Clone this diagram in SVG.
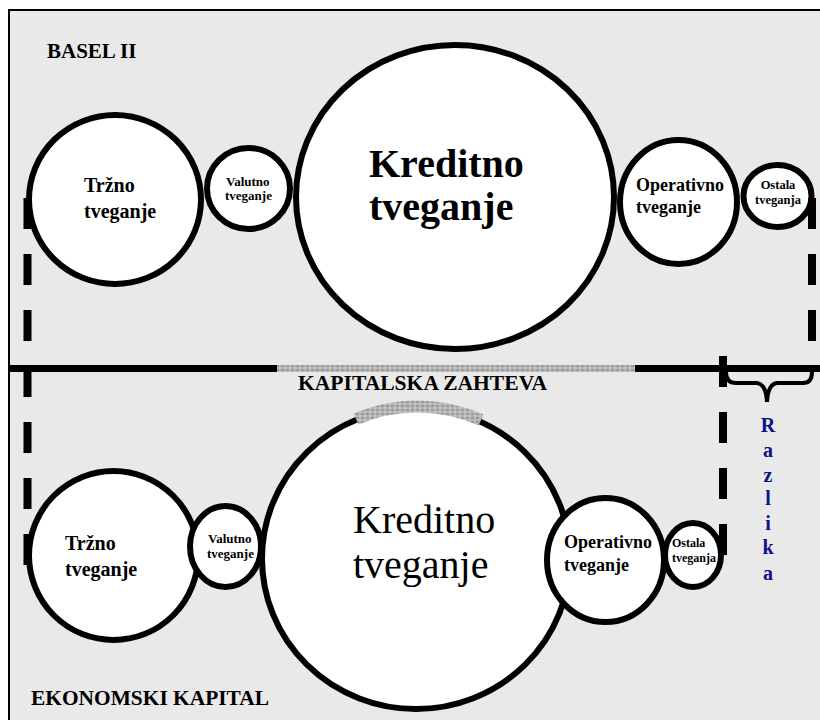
<svg xmlns="http://www.w3.org/2000/svg" width="820" height="720" viewBox="0 0 820 720">
<defs>
<pattern id="tex" width="5" height="4" patternUnits="userSpaceOnUse">
<rect width="5" height="4" fill="#d2d2d2"/>
<rect x="0.5" y="0.5" width="4" height="3" fill="#9c9c9c"/>
</pattern>
<style>
.c{fill:#ffffff;stroke:#000000;stroke-width:6}
.t{font-family:"Liberation Serif","Times New Roman",serif;font-weight:bold;fill:#000000}
.lbl{font-family:"Liberation Serif","Times New Roman",serif;font-weight:bold;font-size:21px;fill:#000000}
.dash{fill:none;stroke:#000000;stroke-width:8;stroke-dasharray:31 25}
.raz{font-family:"Liberation Serif","Times New Roman",serif;font-weight:bold;font-size:20px;fill:#10108a;text-anchor:middle}
</style>
</defs>
<rect x="0" y="0" width="820" height="720" fill="#ffffff"/>
<rect x="9" y="10" width="815" height="715" fill="#e9e9e9" stroke="#000000" stroke-width="2"/>

<text class="lbl" x="47" y="58">BASEL II</text>
<text class="lbl" x="298" y="390" textLength="249" lengthAdjust="spacingAndGlyphs">KAPITALSKA ZAHTEVA</text>
<text class="lbl" x="31" y="705" textLength="238" lengthAdjust="spacingAndGlyphs">EKONOMSKI KAPITAL</text>

<!-- top row -->
<g id="top-trzno">
<ellipse class="c" cx="115" cy="199.5" rx="86" ry="84.5"/>
<text class="t" font-size="20" x="84" y="192">Tržno</text>
<text class="t" font-size="20" x="84" y="218">tveganje</text>
</g>
<g id="top-valutno">
<ellipse class="c" cx="248.5" cy="188.5" rx="41.5" ry="40.5"/>
<text class="t" font-size="13" x="226" y="186">Valutno</text>
<text class="t" font-size="13" x="225" y="200">tveganje</text>
</g>
<g id="top-kreditno">
<ellipse class="c" cx="455" cy="197" rx="159" ry="152"/>
<text class="t" font-size="40" x="369" y="177">Kreditno</text>
<text class="t" font-size="40" x="369" y="220">tveganje</text>
</g>
<g id="top-operativno">
<ellipse class="c" cx="678.5" cy="202" rx="58.5" ry="62"/>
<text class="t" font-size="18" x="636" y="191">Operativno</text>
<text class="t" font-size="18" x="636" y="213">tveganje</text>
</g>
<g id="top-ostala">
<ellipse class="c" cx="777.5" cy="196" rx="34" ry="31"/>
<text class="t" font-size="12.5" x="778" y="189" text-anchor="middle">Ostala</text>
<text class="t" font-size="12.5" x="778" y="204" text-anchor="middle">tveganja</text>
</g>

<!-- bottom row -->
<g id="bottom-trzno">
<ellipse class="c" cx="113.5" cy="555.5" rx="84.5" ry="84.5"/>
<text class="t" font-size="20" x="65" y="550">Tržno</text>
<text class="t" font-size="20" x="65" y="576">tveganje</text>
</g>
<g id="bottom-valutno">
<ellipse class="c" cx="225.5" cy="546.5" rx="35.5" ry="40.5"/>
<text class="t" font-size="13" x="208" y="543">Valutno</text>
<text class="t" font-size="13" x="207" y="558">tveganje</text>
</g>
<g id="bottom-kreditno">
<ellipse class="c" cx="416" cy="558.5" rx="154" ry="150.5"/>
<path d="M 356 419 A 154 152 0 0 1 481 420" fill="none" stroke="url(#tex)" stroke-width="12"/>
<text font-family="'Liberation Serif','Times New Roman',serif" font-size="40" x="353" y="533">Kreditno</text>
<text font-family="'Liberation Serif','Times New Roman',serif" font-size="40" x="353" y="578">tveganje</text>
</g>
<g id="bottom-ostala">
<ellipse class="c" cx="693" cy="555" rx="28" ry="32"/>
<text class="t" font-size="12" x="672" y="547">Ostala</text>
<text class="t" font-size="12" x="672" y="562">tveganja</text>
</g>
<g id="bottom-operativno">
<ellipse class="c" cx="605.5" cy="560" rx="58.5" ry="62"/>
<text class="t" font-size="18" x="564" y="548">Operativno</text>
<text class="t" font-size="18" x="564" y="571">tveganje</text>
</g>

<g id="connectors">
<line x1="9" y1="368.5" x2="820" y2="368.5" stroke="#000000" stroke-width="7"/>
<rect x="277" y="365" width="358" height="7" fill="url(#tex)"/>
<line class="dash" x1="27.5" y1="198" x2="27.5" y2="342"/>
<line class="dash" x1="812" y1="198" x2="812" y2="342"/>
<line class="dash" x1="27.5" y1="366" x2="27.5" y2="566"/>
<line class="dash" x1="723" y1="356" x2="723" y2="556"/>
<path d="M 726 372 Q 726 383 736 383 L 757 383 Q 766 384 767 402 Q 768 384 777 383 L 803 383 Q 812 383 812 372" fill="none" stroke="#000000" stroke-width="4"/>
</g>

<g id="razlika">
<text class="raz" x="768" y="432">R</text>
<text class="raz" x="768" y="457">a</text>
<text class="raz" x="768" y="482">z</text>
<text class="raz" x="768" y="505">l</text>
<text class="raz" x="768" y="530">i</text>
<text class="raz" x="768" y="554">k</text>
<text class="raz" x="768" y="580">a</text>
</g>
</svg>
